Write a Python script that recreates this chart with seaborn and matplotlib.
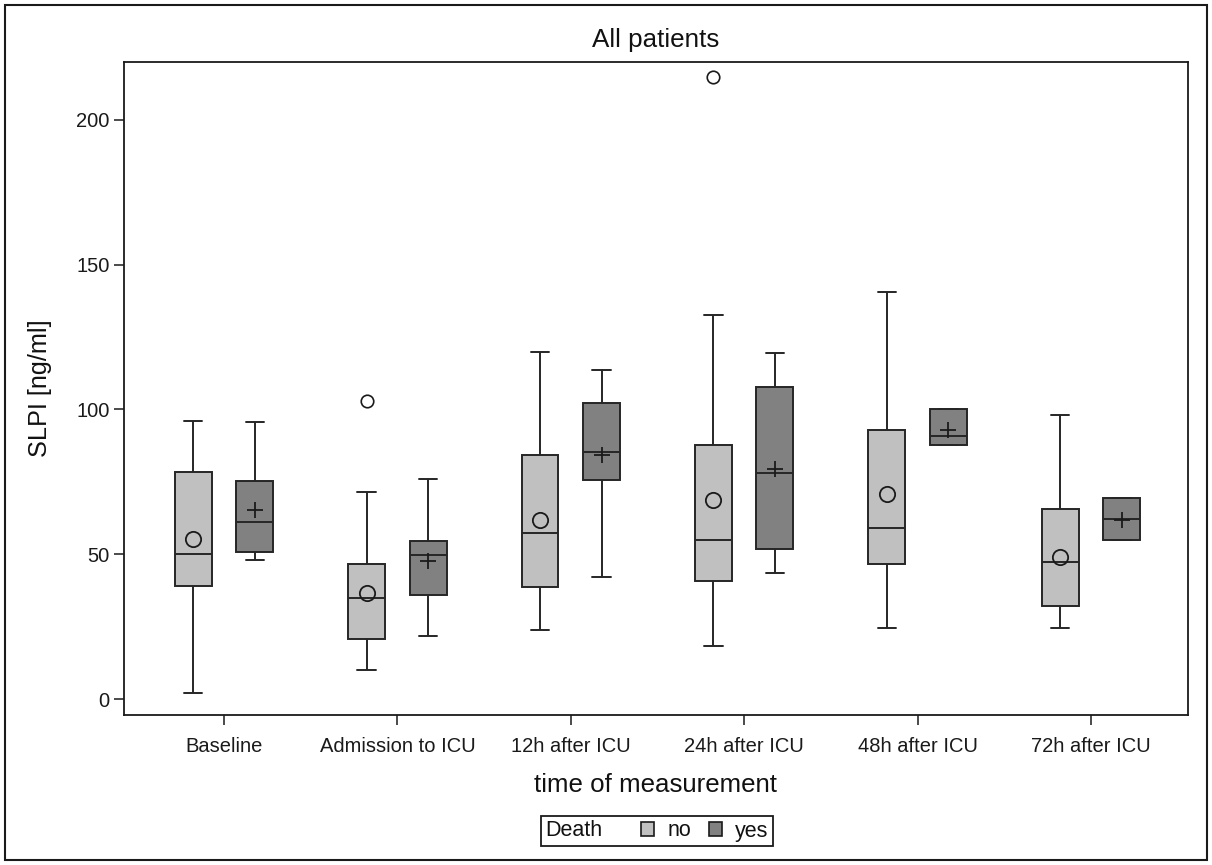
import numpy as np
import pandas as pd
import matplotlib
matplotlib.use("Agg")
import matplotlib.pyplot as plt
from matplotlib.patches import Rectangle, Patch
from matplotlib.offsetbox import HPacker
import seaborn as sns

# ---------------- data ----------------
categories = ["Baseline", "Admission to ICU", "12h after ICU",
              "24h after ICU", "48h after ICU", "72h after ICU"]
groups = ["no", "yes"]

no_whislo = [2.2, 9.9, 23.8, 18.4, 24.6, 24.7]
no_q1 = [38.9, 20.7, 38.8, 40.9, 46.6, 32.2]
no_med = [50.0, 34.8, 57.3, 55.0, 59.2, 47.4]
no_q3 = [78.3, 46.5, 84.3, 87.9, 93.0, 65.6]
no_whishi = [96.0, 71.5, 120.0, 132.5, 140.7, 98.2]
no_mean = [55.4, 36.7, 61.7, 68.6, 70.8, 49.2]
no_outliers = [[], [103.0], [], [214.9], [], []]

yes_whislo = [48.0, 21.8, 42.1, 43.4, 87.6, 55.1]
yes_q1 = [50.7, 35.8, 75.6, 51.7, 87.6, 55.1]
yes_med = [61.2, 49.7, 85.4, 78.2, 91.0, 62.3]
yes_q3 = [75.2, 54.6, 102.4, 107.8, 100.2, 69.4]
yes_whishi = [95.6, 76.1, 113.6, 119.4, 100.2, 69.4]
yes_mean = [65.3, 47.7, 84.3, 79.6, 92.9, 62.0]
yes_outliers = [[], [], [], [], [], []]

yticks = [0, 50, 100, 150, 200]

box_colors = {"no": "#c0c0c0", "yes": "#818181"}
line_color = "#262626"


def values_for(lo, q1, med, q3, hi, outs):
    # values whose quartiles / whiskers reproduce the read five-number summary
    if outs:
        return [lo, q1, q1, med, med, q3, q3, hi] + list(outs)
    return [lo, q1, med, q3, hi]


rows = []
mean_rows = []
summ = {
    "no": (no_whislo, no_q1, no_med, no_q3, no_whishi, no_outliers, no_mean),
    "yes": (yes_whislo, yes_q1, yes_med, yes_q3, yes_whishi, yes_outliers, yes_mean),
}
for g in groups:
    lo, q1, med, q3, hi, outs, mn = summ[g]
    for i, c in enumerate(categories):
        for v in values_for(lo[i], q1[i], med[i], q3[i], hi[i], outs[i]):
            rows.append({"time": c, "Death": g, "value": v})
        mean_rows.append({"time": c, "Death": g, "mean": mn[i]})
df_box = pd.DataFrame(rows)
df_mean = pd.DataFrame(mean_rows)

# ---------------- style ----------------
sns.set_theme(style="ticks")
plt.rcParams["font.family"] = ["Liberation Sans", "DejaVu Sans"]
plt.rcParams["axes.edgecolor"] = "#1a1a1a"
plt.rcParams["axes.linewidth"] = 1.3
plt.rcParams["xtick.color"] = "#1a1a1a"
plt.rcParams["ytick.color"] = "#1a1a1a"
plt.rcParams["text.color"] = "#111111"
plt.rcParams["axes.labelcolor"] = "#111111"

W, H = 1212, 865
fig = plt.figure(figsize=(W / 100, H / 100), dpi=100)
ax = fig.add_axes([124 / W, 1 - 715 / H, (1188 - 124) / W, (715 - 62) / H])

sns.boxplot(
    data=df_box, x="time", y="value", hue="Death",
    order=categories, hue_order=groups, palette=box_colors,
    width=0.71, gap=0.4, linecolor=line_color, linewidth=1.4,
    fliersize=9,
    flierprops=dict(marker="o", markerfacecolor="none",
                    markeredgecolor="#1a1a1a", markersize=9,
                    markeredgewidth=1.2),
    legend=False, ax=ax,
)

sns.pointplot(
    data=df_mean, x="time", y="mean", hue="Death",
    order=categories, hue_order=groups,
    palette={"no": "#1a1a1a", "yes": "#1a1a1a"},
    markers=["o", "+"], linestyles="none", dodge=0.355, errorbar=None,
    markersize=11, markeredgewidth=1.3, markerfacecolor="none",
    legend=False, ax=ax, zorder=6,
)

ax.set_xlim(-0.577, 5.56)
ax.set_ylim(-5.5, 220)
ax.set_yticks(yticks)
ax.set_yticklabels([str(t) for t in yticks])

for sp in ax.spines.values():
    sp.set_visible(True)
    sp.set_linewidth(1.3)
    sp.set_color("#1a1a1a")

ax.tick_params(axis="both", direction="out", length=7.5, width=1.1,
               labelsize=14.5, top=False, right=False)
ax.tick_params(axis="x", pad=8.5)
ax.tick_params(axis="y", pad=3)

ax.set_title("All patients", fontsize=18.7, pad=11)
ax.set_xlabel("time of measurement", fontsize=18.6, labelpad=12)
ax.set_ylabel("SLPI [ng/ml]", fontsize=18.2, labelpad=17)
ax.grid(False)

# legend: "Death  [] no  [] yes" in one row
handles = [Patch(facecolor=box_colors[g], edgecolor="#1a1a1a", linewidth=1.2)
           for g in groups]
leg = fig.legend(
    handles, groups, title="Death", ncol=2, loc="center",
    bbox_to_anchor=(657 / W, 1 - 831 / H), frameon=True, fancybox=False,
    edgecolor="#1a1a1a", framealpha=1, fontsize=15.5, title_fontsize=15.5,
    handlelength=0.6, handleheight=0.6, handletextpad=0.6,
    columnspacing=0.85, borderpad=0.2, borderaxespad=0,
)
leg.get_frame().set_linewidth(1.3)
try:
    leg._legend_box.__class__ = HPacker
    leg._legend_box.sep = 28
except Exception:
    pass

# outer border of the figure
fig.patches.append(Rectangle((5 / W, 5 / H), (1207 - 5) / W, (860 - 5) / H,
                             transform=fig.transFigure, fill=False,
                             edgecolor="#1a1a1a", linewidth=1.5))

fig.savefig("out.png", dpi=100)
